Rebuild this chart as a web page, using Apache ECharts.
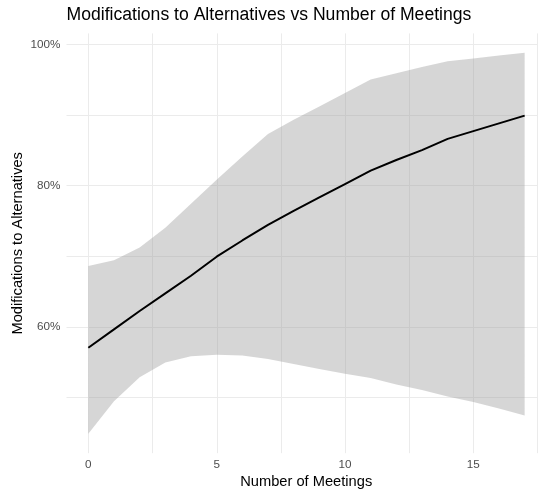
<!DOCTYPE html>
<html>
<head>
<meta charset="utf-8">
<script src="https://cdn.jsdelivr.net/npm/echarts@6/dist/echarts.min.js"></script>
<style>
html,body{margin:0;padding:0;background:#fff;}
#chart{width:538px;height:490px;}
</style>
</head>
<body>
<div id="chart"></div>
<script>
// Data
const meetings = [0,1,2,3,4,5,6,7,8,9,10,11,12,13,14,15,16,17];
const fitPct   = [57.0,59.6,62.2,64.7,67.2,69.9,72.2,74.4,76.4,78.3,80.2,82.1,83.6,85.0,86.6,87.7,88.8,89.9];
const lowerPct = [44.8,49.4,52.8,54.9,55.8,56.0,55.9,55.4,54.7,54.0,53.3,52.7,51.8,51.0,50.1,49.3,48.4,47.4];
const upperPct = [68.6,69.4,71.2,74.0,77.4,80.8,84.1,87.3,89.3,91.2,93.1,95.0,95.9,96.8,97.6,98.0,98.4,98.8];

// Ticks
const xLabelTicks = [0,5,10,15];
const xGridTicks  = [0,2.5,5,7.5,10,12.5,15,17.5];
const yLabelTicks = [0.6,0.8,1.0];
const yGridTicks  = [0.5,0.6,0.7,0.8,0.9,1.0];

const fitData  = meetings.map((x,i)=>[x, fitPct[i]/100]);
const bandData = meetings.map((x,i)=>[x, lowerPct[i]/100, upperPct[i]/100]);

const FONT = 'Liberation Sans, Arial, sans-serif';
const chart = echarts.init(document.getElementById('chart'), null, {renderer:'canvas'});
chart.setOption({
  animation:false,
  backgroundColor:'#ffffff',
  title:{
    text:'Modifications to Alternatives vs Number of Meetings',
    left:66.5, top:6, padding:0,
    textStyle:{fontFamily:FONT, fontSize:17.6, fontWeight:'normal', color:'#000'}
  },
  grid:{left:66.5, right:0, top:33.4, bottom:36.8, containLabel:false, outerBoundsMode:'none'},
  xAxis:{
    type:'value', min:-0.85, max:17.52,
    axisLine:{show:false}, axisTick:{show:false}, splitLine:{show:false},
    axisLabel:{customValues:xLabelTicks, color:'#4d4d4d', fontSize:11.7, fontFamily:FONT, margin:6},
    name:'Number of Meetings', nameLocation:'middle', nameGap:21, nameMoveOverlap:false,
    nameTextStyle:{fontFamily:FONT, fontSize:14.67, color:'#000', padding:[0,0,0,8]}
  },
  yAxis:{
    type:'value', min:0.4205, max:1.0155,
    axisLine:{show:false}, axisTick:{show:false}, splitLine:{show:false},
    axisLabel:{customValues:yLabelTicks, color:'#4d4d4d', fontSize:11.7, fontFamily:FONT, margin:6,
      formatter:v=>Math.round(v*100)+'%'},
    name:'Modifications to Alternatives', nameLocation:'middle', nameGap:41, nameMoveOverlap:false,
    nameTextStyle:{fontFamily:FONT, fontSize:14.67, color:'#000'}
  },
  series:[
    {
      type:'custom', name:'gridlines', data:[[0,0.5]], silent:true, z:1, clip:false,
      renderItem:function(params, api){
        const cs = params.coordSys;
        const children = [];
        xGridTicks.forEach(v=>{
          const px = Math.round(api.coord([v, 0.5])[0]) + 0.5;
          children.push({type:'line', shape:{x1:px, y1:cs.y, x2:px, y2:cs.y+cs.height},
            style:{stroke:'#ebebeb', lineWidth:1}});
        });
        yGridTicks.forEach(v=>{
          const py = Math.round(api.coord([0, v])[1]) + 0.5;
          children.push({type:'line', shape:{x1:cs.x, y1:py, x2:cs.x+cs.width, y2:py},
            style:{stroke:'#ebebeb', lineWidth:1}});
        });
        return {type:'group', children:children};
      }
    },
    {
      type:'custom', name:'band', data:bandData, silent:true, z:2,
      encode:{x:0, y:[1,2]},
      renderItem:function(params, api){
        if (params.dataIndex !== 0) return null;
        const pts = [];
        for (let i=0;i<bandData.length;i++) pts.push(api.coord([bandData[i][0], bandData[i][2]]));
        for (let i=bandData.length-1;i>=0;i--) pts.push(api.coord([bandData[i][0], bandData[i][1]]));
        return {type:'polygon', shape:{points:pts}, style:{fill:'rgba(153,153,153,0.4)', stroke:null}};
      }
    },
    {
      type:'line', name:'fit', data:fitData, symbol:'none', silent:true, z:3,
      lineStyle:{color:'#000', width:2}
    }
  ]
});
</script>
</body>
</html>
